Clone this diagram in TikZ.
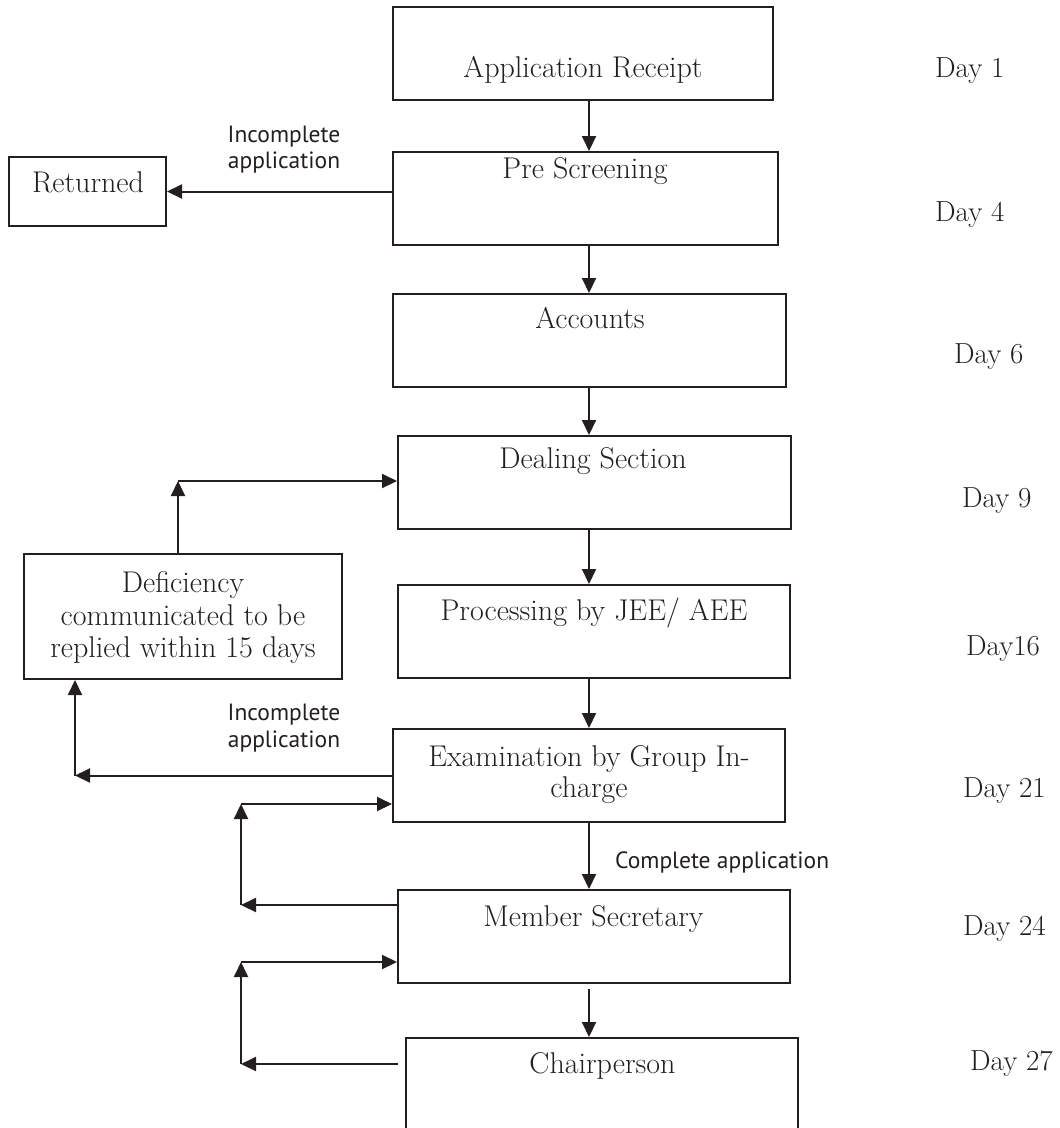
\documentclass[tikz,border=0pt]{standalone}
\usepackage{fontspec}
\newfontfamily\labelfont{PT Sans}
\usetikzlibrary{arrows.meta}
\definecolor{ink}{HTML}{231F20}
\begin{document}
\begin{tikzpicture}[x=1pt,y=-1pt,
  box/.style={draw=ink, line width=2pt, inner sep=0pt, minimum height=93pt},
  arr/.style={draw=ink, line width=2pt, -{Triangle[length=15pt,width=14pt]}},
  txt/.style={text=ink, font=\fontsize{30}{34}\selectfont, inner sep=0pt, anchor=base},
  day/.style={text=ink, font=\fontsize{29}{34}\selectfont, inner sep=0pt, anchor=base west},
  lbl/.style={text=ink, font=\labelfont\fontsize{23.5}{28}\selectfont, inner sep=0pt, anchor=base}
]
\clip (0,0) rectangle (1060,1128);
\fill[white] (0,0) rectangle (1060,1128);

% boxes
\node[box, minimum width=380pt] (ar) at (583,53.5) {};
\node[box, minimum width=385pt] (ps) at (585.5,198.5) {};
\node[box, minimum width=393pt] (acc) at (589.5,340.5) {};
\node[box, minimum width=393pt] (deal) at (594.5,482.5) {};
\node[box, minimum width=392pt] (proc) at (594,631.5) {};
\node[box, minimum width=392pt] (exam) at (589,775.5) {};
\node[box, minimum width=392pt] (ms) at (594,936.5) {};
\node[box, minimum width=392pt, minimum height=110pt] (ch) at (602,1093) {};
\node[box, minimum width=157pt, minimum height=69pt] (ret) at (87.5,191.5) {};
\node[box, minimum width=318pt, minimum height=125pt] (def) at (183,616.5) {};

% box texts
\node[txt] (tar) at (583,77) {Application Receipt};
\node[txt] (tps) at (585,178) {Pre Screening};
\node[txt] (tacc) at (590,328) {Accounts};
\node[txt] (tdeal) at (593,468) {Dealing Section};
\node[txt] (tproc) at (594,620) {Processing by JEE/ AEE};
\node[txt] (texam1) at (589,766) {Examination by Group In-};
\node[txt] (texam2) at (589,797) {charge};
\node[txt] (tms) at (593.5,926) {Member Secretary};
\node[txt] (tch) at (602.5,1073) {Chairperson};
\node[txt] (tret) at (88,192) {Returned};
\node[txt] (tdef1) at (183,592) {Deficiency};
\node[txt] (tdef2) at (183,625) {communicated to be};
\node[txt] (tdef3) at (183,657) {replied within 15 days};

% labels
\node[lbl] (l1a) at (284,142) {Incomplete};
\node[lbl] (l1b) at (284,168) {application};
\node[lbl] (l2a) at (284,720) {Incomplete};
\node[lbl] (l2b) at (284,747) {application};
\node[lbl, anchor=base west] (l3) at (615,868) {Complete application};

% days
\node[day] (d1) at (935,77) {Day 1};
\node[day] (d4) at (935,221) {Day 4};
\node[day] (d6) at (954,363) {Day 6};
\node[day] (d9) at (962,507) {Day 9};
\node[day] (d16) at (966,655) {Day16};
\node[day] (d21) at (963,797) {Day 21};
\node[day] (d24) at (963,935) {Day 24};
\node[day] (d27) at (970,1070) {Day 27};

% main flow
\coordinate (cx) at (589,0);
\draw[arr] (ar.south -| cx) -- (ps.north -| cx);
\draw[arr] (ps.south -| cx) -- (acc.north -| cx);
\draw[arr] (acc.south -| cx) -- (deal.north -| cx);
\draw[arr] (deal.south -| cx) -- (proc.north -| cx);
\draw[arr] (proc.south -| cx) -- (exam.north -| cx);
\draw[arr] (exam.south -| cx) -- (ms.north -| cx);
\draw[arr] ([yshift=-5pt]ms.south -| cx) -- (ch.north -| cx);

% returned
\draw[arr] (ps.west |- ret.east) -- (ret.east);

% deficiency loop
\coordinate (c1) at (178,481);
\draw[arr] (def.north -| c1) -- (c1);
\draw[arr] (c1) -- (deal.west |- c1);
\coordinate (c2) at (75,775.5);
\draw[arr] (exam.west) -- (c2);
\draw[arr] (c2) -- (def.south -| c2);

% member secretary loop
\coordinate (c3) at (241,905);
\coordinate (c4) at (241,804);
\draw[arr] (ms.west |- c3) -- (c3);
\draw[arr] (c3) -- (c4);
\draw[arr] (c4) -- (exam.west |- c4);

% chairperson loop
\coordinate (c5) at (241,1064);
\coordinate (c6) at (241,962);
\draw[arr] ([xshift=-7pt]ch.west |- c5) -- (c5);
\draw[arr] (c5) -- (c6);
\draw[arr] (c6) -- (ms.west |- c6);
\end{tikzpicture}
\end{document}
